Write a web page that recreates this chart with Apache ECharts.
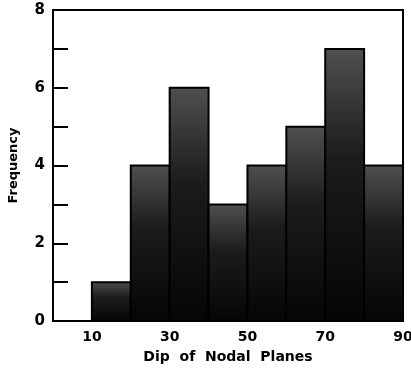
<!DOCTYPE html>
<html>
<head>
<meta charset="utf-8">
<script src="https://cdn.jsdelivr.net/npm/echarts@6/dist/echarts.min.js"></script>
<style>
  html, body { margin: 0; padding: 0; background: #fff; }
  #chart { width: 411px; height: 377px; }
</style>
</head>
<body>
<div id="chart"></div>
<script>
// histogram bins (degrees) and counts
const binStarts = [0, 10, 20, 30, 40, 50, 60, 70, 80];
const binWidth = 10;
const counts = [0, 1, 4, 6, 3, 4, 5, 7, 4];
const xTickLabels = [10, 30, 50, 70, 90];
const yTickLabels = [0, 2, 4, 6, 8];

const chart = echarts.init(document.getElementById("chart"));

const barFill = new echarts.graphic.LinearGradient(0, 0, 0, 1, [
  { offset: 0, color: "#505050" },
  { offset: 0.4, color: "#1c1c1c" },
  { offset: 1, color: "#050505" }
]);

const font = "DejaVu Sans";

chart.setOption({
  animation: false,
  backgroundColor: "#fff",
  grid: {
    left: 53, right: 8, top: 10, bottom: 56,
    outerBoundsMode: "none", containLabel: false,
    show: true, borderColor: "#000", borderWidth: 2
  },
  xAxis: {
    type: "value",
    min: 0,
    max: 90,
    interval: 10,
    name: "Dip  of  Nodal  Planes",
    nameLocation: "middle",
    nameGap: 29,
    nameTextStyle: { fontFamily: font, fontWeight: "bold", fontSize: 14, color: "#000" },
    axisLine: { show: true, lineStyle: { color: "#000", width: 2 } },
    axisTick: { show: false },
    splitLine: { show: false },
    axisLabel: {
      margin: 9,
      fontFamily: font, fontWeight: "bold", fontSize: 14, color: "#000",
      formatter: v => (xTickLabels.includes(v) ? String(v) : "")
    }
  },
  yAxis: {
    type: "value",
    min: 0,
    max: 8,
    interval: 1,
    name: "Frequency",
    nameLocation: "middle",
    nameGap: 33,
    nameTextStyle: { fontFamily: font, fontWeight: "bold", fontSize: 13, color: "#000" },
    axisLine: { show: true, lineStyle: { color: "#000", width: 2 } },
    axisTick: { show: true, inside: true, length: 15, lineStyle: { color: "#000", width: 2 } },
    splitLine: { show: false },
    axisLabel: {
      margin: 8,
      fontFamily: font, fontWeight: "bold", fontSize: 15, color: "#000",
      formatter: v => (yTickLabels.includes(v) ? String(v) : "")
    }
  },
  series: [{
    type: "custom",
    data: binStarts.map((s, i) => [s, s + binWidth, counts[i]]),
    encode: { x: [0, 1], y: 2 },
    renderItem: (params, api) => {
      const p0 = api.coord([api.value(0), api.value(2)]);
      const p1 = api.coord([api.value(1), 0]);
      return {
        type: "rect",
        shape: { x: p0[0], y: p0[1], width: p1[0] - p0[0], height: p1[1] - p0[1] },
        style: { fill: barFill, stroke: "#000", lineWidth: 2 }
      };
    }
  }]
});
</script>
</body>
</html>
